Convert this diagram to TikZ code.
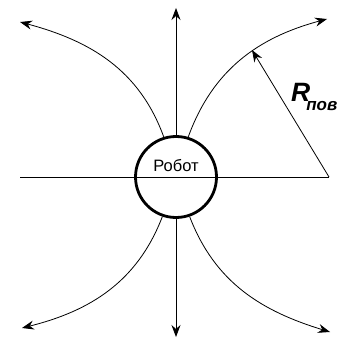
\documentclass[tikz,border=0pt]{standalone}
\usepackage{fontspec}
\newfontfamily\arialfont{Liberation Sans}
\usepackage{tikz}
\usetikzlibrary{arrows.meta,positioning,calc}

\begin{document}
\begin{tikzpicture}[x=1pt,y=1pt,
    field/.style={line width=0.8pt, -{Stealth[length=12pt,width=9pt,inset=4pt]}},
    body/.style={draw, circle, line width=2.8pt, minimum size=81pt, inner sep=0pt}]
            \useasboundingbox (0,0) rectangle (344,340);
            \node[body] (robot) at (176,163) {};
            \node[anchor=base, inner sep=0pt, font=\arialfont\fontsize{16.5}{16.5}\selectfont] (name) at ([yshift=5pt]robot.center) {Робот};
            \coordinate (leftend) at (20,163);
            \coordinate (rightend) at (329,163);
            \coordinate (top) at (176,332);
            \coordinate (bottom) at (176,3);
            \coordinate (tl) at (20,318);
            \coordinate (tr) at (327,321);
            \coordinate (bl) at (22,12);
            \coordinate (br) at (330,8);
            \draw[line width=0.8pt] (leftend) -- (rightend);
            \draw[field] (robot.north) -- (top);
            \draw[field] (robot.south) -- (bottom);
            \draw[field] (robot.107) to[out=110, in=-15] (tl);
            \draw[field] (robot.73) to[out=70, in=195] (tr);
            \draw[field] (robot.251) to[out=249, in=14] (bl);
            \draw[field] (robot.289) to[out=291, in=163] (br);
            % radius of turn
            \coordinate (onpath) at (252,290);
            \draw[field] (rightend) -- (onpath);
            \node[anchor=base west, inner sep=0pt, font=\arialfont\bfseries\itshape\fontsize{26.5}{26.5}\selectfont] (rlabel) at (291,238) {R\kern-4pt\raisebox{-9pt}{\fontsize{17}{17}\selectfont пов}};
        \end{tikzpicture}
\end{document}
